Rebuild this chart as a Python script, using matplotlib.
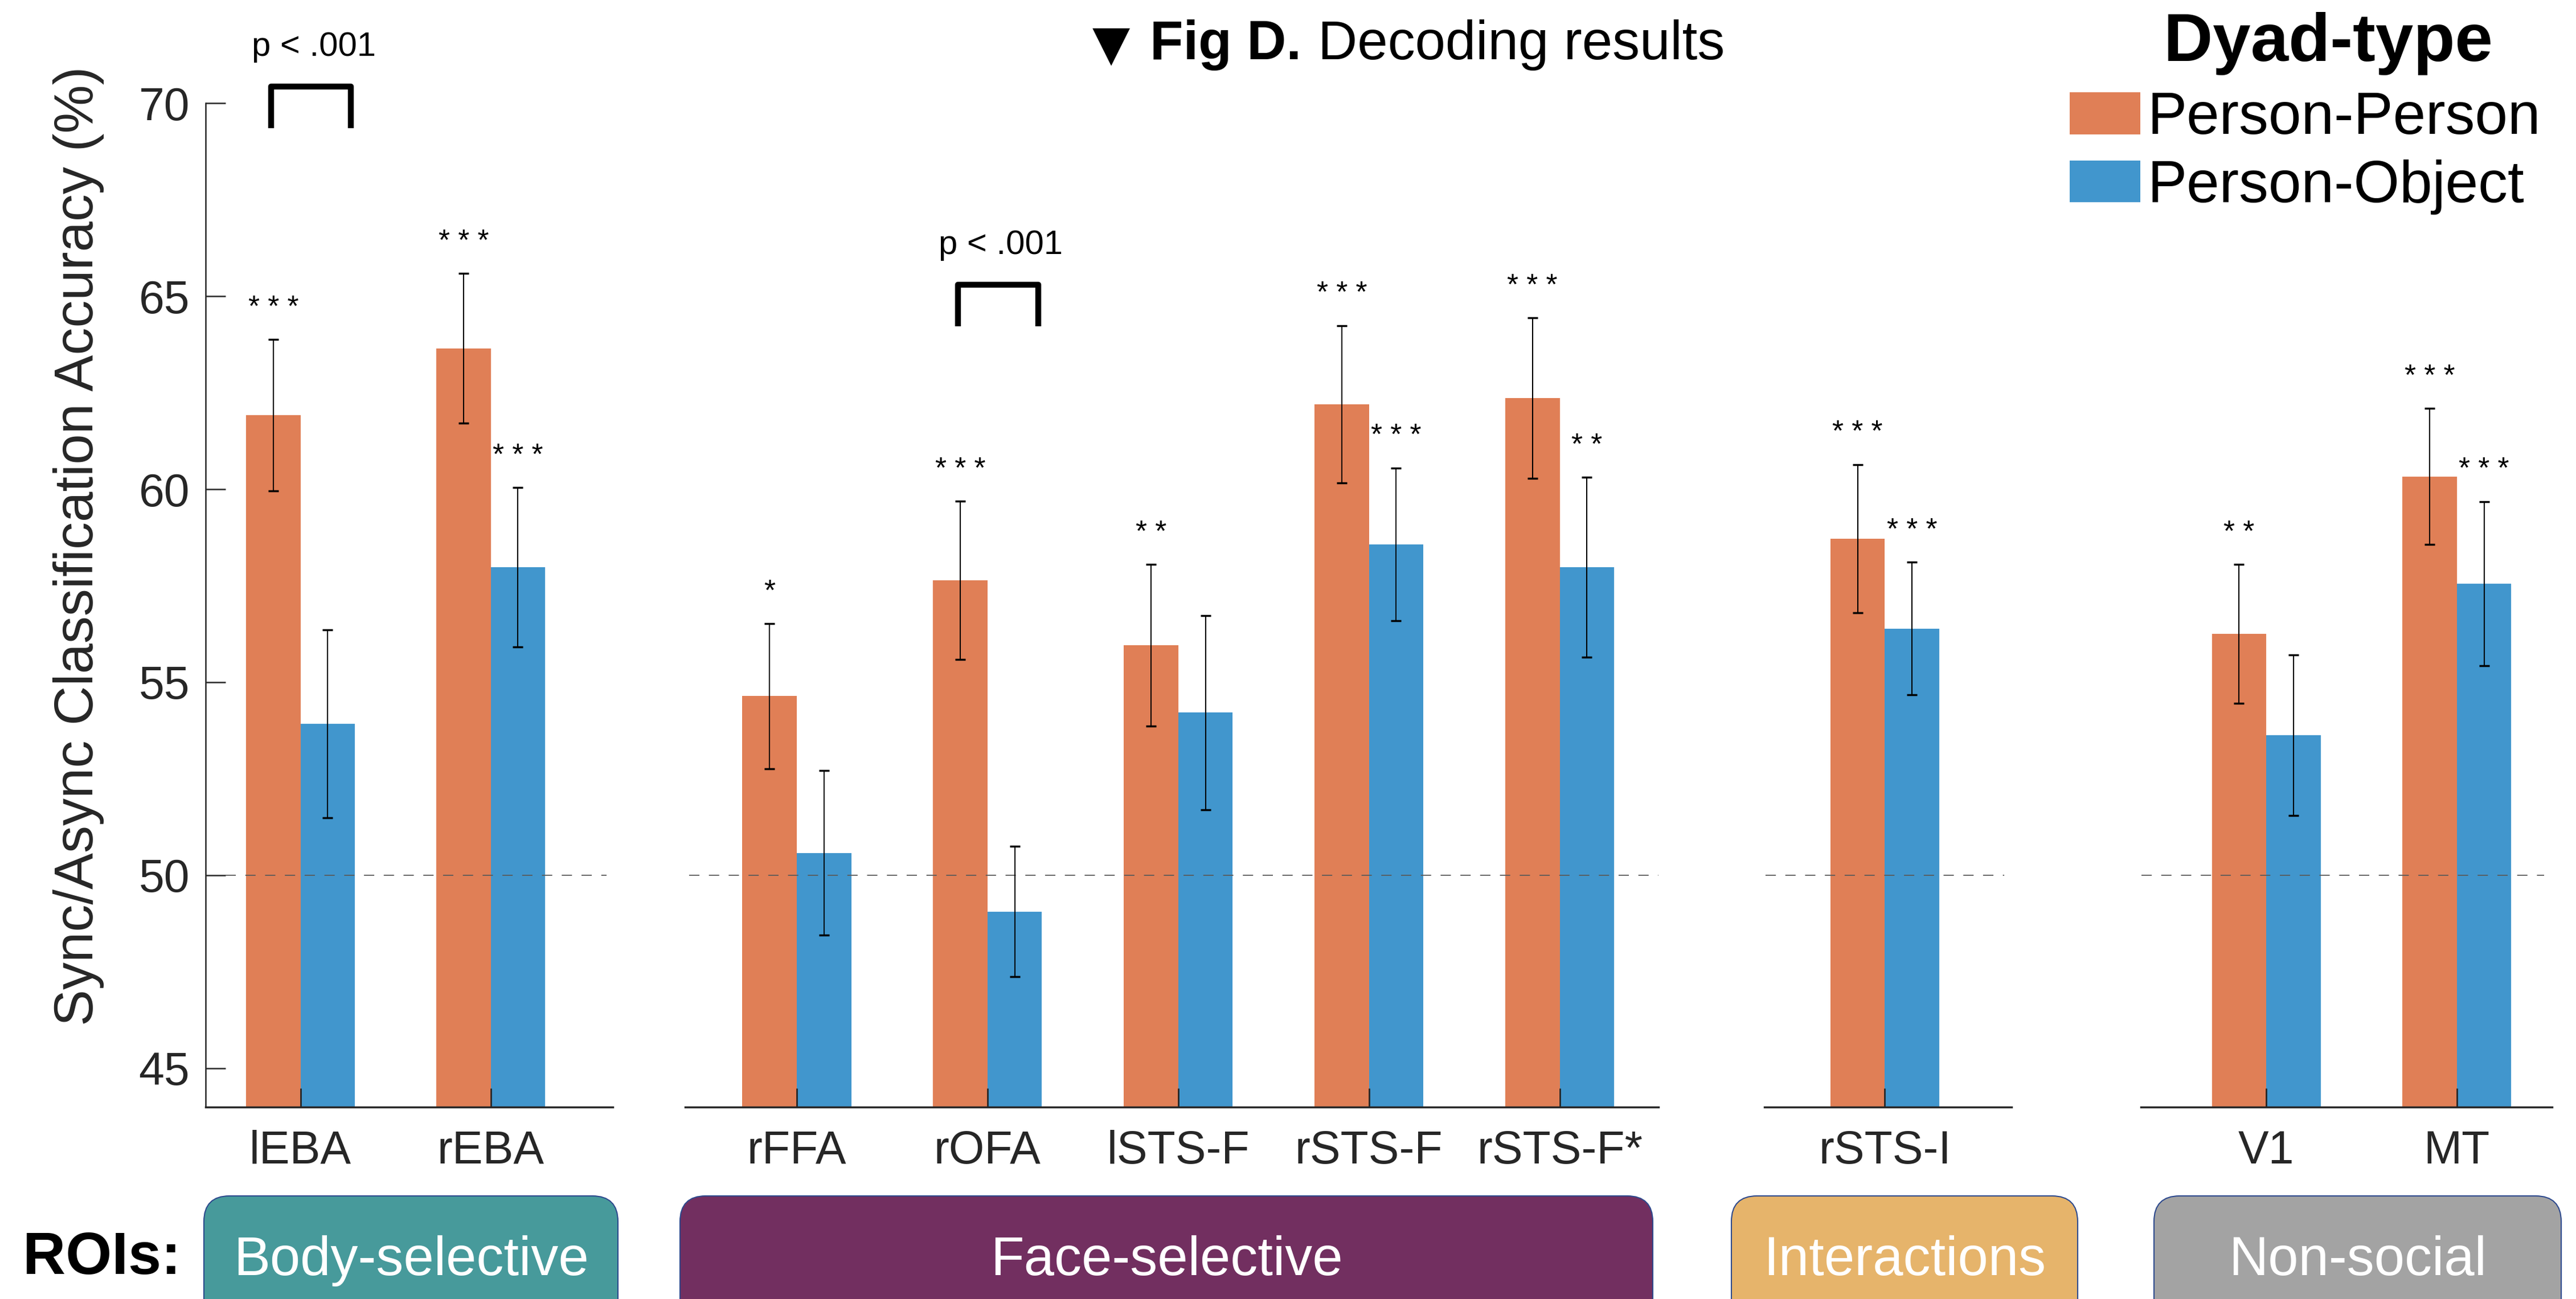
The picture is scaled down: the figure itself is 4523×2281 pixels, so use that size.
import matplotlib
matplotlib.use('Agg')
import matplotlib.pyplot as plt
from matplotlib.patches import FancyBboxPatch
from matplotlib import transforms
import numpy as np

plt.rcParams['font.family'] = ['Liberation Sans', 'DejaVu Sans']
plt.rcParams['lines.scale_dashes'] = False

# ---------------- data ----------------
groups = ['Body-selective', 'Face-selective', 'Interactions', 'Non-social']
group_rois = [['lEBA', 'rEBA'],
              ['rFFA', 'rOFA', 'lSTS-F', 'rSTS-F', 'rSTS-F*'],
              ['rSTS-I'],
              ['V1', 'MT']]
series = ['Person-Person', 'Person-Object']
pp_mean = [61.92, 63.65, 54.64, 57.64, 55.96, 62.20, 62.36, 58.72, 56.25, 60.33]
pp_err = [1.96, 1.94, 1.88, 2.05, 2.09, 2.04, 2.08, 1.92, 1.80, 1.76]
po_mean = [53.92, 57.98, 50.58, 49.06, 54.21, 58.57, 57.98, 56.39, 53.62, 57.55]
po_err = [2.43, 2.06, 2.13, 1.69, 2.52, 1.98, 2.33, 1.72, 2.08, 2.13]
pp_sig = ['***', '***', '*', '***', '**', '***', '***', '***', '**', '***']
po_sig = ['', '***', '', '', '', '***', '**', '***', '', '***']
yticks = [45, 50, 55, 60, 65, 70]
chance = 50
compare_rois = ['lEBA', 'rOFA']
compare_label = 'p < .001'

# ---------------- style / layout ----------------
W, H = 4523, 2281
c_pp = '#E07F56'
c_po = '#4196CD'
box_colors = ['#479A9B', '#722F60', '#E6B46B', '#A3A3A3']
box_px = [(358, 1085), (1194, 2902), (3040, 3648), (3782, 4497)]
panel_px = [(360.7, 1076), (1203, 2912), (3098, 3532), (3759, 4481)]
panel_xlim = [(-0.5, 1.642), (-0.585, 4.518), (-0.633, 0.667), (-0.658, 1.5)]
dash_span = [(0.05, 0.985), (0.004, 1.0), (0.005, 0.97), (0.002, 0.98)]
ytop_px, ybot_px = 181.2, 1943.5
bw = 0.2857
axc = '#262626'
bracket_bottom = {'lEBA': 69.36, 'rOFA': 64.22}

fig = plt.figure(figsize=(W / 100, H / 100), dpi=100)

ov = fig.add_axes([0, 0, 1, 1])
ov.set_xlim(0, W)
ov.set_ylim(H, 0)
ov.axis('off')

flat_idx = 0
legend_handles = None
for gi, rois in enumerate(group_rois):
    x0, x1 = panel_px[gi]
    ax = fig.add_axes([x0 / W, 1 - ybot_px / H, (x1 - x0) / W, (ybot_px - ytop_px) / H])
    ax.set_facecolor('none')
    n = len(rois)
    idx = list(range(flat_idx, flat_idx + n))
    flat_idx += n
    x = np.arange(n)
    pm = [pp_mean[i] for i in idx]
    pe = [pp_err[i] for i in idx]
    om = [po_mean[i] for i in idx]
    oe = [po_err[i] for i in idx]
    b1 = ax.bar(x - bw / 2, pm, width=bw, color=c_pp, label=series[0], zorder=1)
    b2 = ax.bar(x + bw / 2, om, width=bw, color=c_po, label=series[1], zorder=1)
    if legend_handles is None:
        legend_handles = [b1, b2]
    ax.errorbar(x - bw / 2, pm, yerr=pe, fmt='none', ecolor='black',
                elinewidth=1.5, capsize=6.5, capthick=2.5, zorder=3)
    ax.errorbar(x + bw / 2, om, yerr=oe, fmt='none', ecolor='black',
                elinewidth=1.5, capsize=6.5, capthick=2.5, zorder=3)
    ax.axhline(chance, xmin=dash_span[gi][0], xmax=dash_span[gi][1],
               color='#5a5a5a', lw=1.3, dashes=(13, 12), zorder=2)
    star_tr = transforms.offset_copy(ax.transData, fig=fig, y=-0.58 * 37, units='points')
    for k, i in enumerate(idx):
        for xs, m, e, s in [(x[k] - bw / 2, pp_mean[i], pp_err[i], pp_sig[i]),
                            (x[k] + bw / 2, po_mean[i], po_err[i], po_sig[i])]:
            if s:
                ax.text(xs, m + e + 1.05, ' '.join(s), ha='center', va='baseline',
                        fontsize=37, color='black', transform=star_tr, clip_on=False)
        if rois[k] in compare_rois:
            yb = bracket_bottom[rois[k]]
            yt = yb + 1.07
            xl, xr = x[k] - 0.155, x[k] + 0.265
            ax.plot([xl, xl, xr, xr], [yb, yt, yt, yb], color='black', lw=7.5,
                    solid_joinstyle='round', solid_capstyle='butt', clip_on=False, zorder=4)
            ax.text(x[k] + 0.07, yt + 0.8, compare_label, ha='center', va='baseline',
                    fontsize=43, color='black', clip_on=False)

    ax.set_xlim(*panel_xlim[gi])
    ax.set_ylim(44, 70)
    ax.set_xticks(x)
    ax.set_xticklabels(rois)
    ax.tick_params(axis='x', direction='in', length=24, width=2, pad=29,
                   labelsize=58, colors=axc)
    for sp in ['top', 'right']:
        ax.spines[sp].set_visible(False)
    ax.spines['bottom'].set_linewidth(2.5)
    ax.spines['bottom'].set_color(axc)
    if gi == 0:
        ax.set_yticks(yticks)
        ax.tick_params(axis='y', direction='in', length=25, width=1.8, pad=20,
                       labelsize=58, colors=axc)
        ax.spines['left'].set_linewidth(1.8)
        ax.spines['left'].set_color(axc)
    else:
        ax.set_yticks([])
        ax.spines['left'].set_visible(False)

    # ROI group box
    bx0, bx1 = box_px[gi]
    ov.add_patch(FancyBboxPatch((bx0, 2100), bx1 - bx0, 300,
                                boxstyle='round,pad=0,rounding_size=45',
                                fc=box_colors[gi], ec='#2E4A8E', lw=1.5))
    ov.text((bx0 + bx1) / 2, 2239, groups[gi], ha='center', va='baseline',
            color='white', fontsize=69)

ov.text(40, 2237, 'ROIs:', ha='left', va='baseline', fontsize=75,
        fontweight='bold', color='black')

# y label
fig.text(138 / W, 1 - 959 / H, 'Sync/Async Classification Accuracy (%)', rotation=90,
         ha='center', va='center', fontsize=69, color=axc)

# title
ov.text(1918, 104, '\u25BC', ha='left', va='baseline', fontsize=62,
        family='DejaVu Sans', color='black')
ov.text(2019, 104, 'Fig D.', ha='left', va='baseline', fontsize=69,
        fontweight='bold', color='black')
ov.text(2314, 104, 'Decoding results', ha='left', va='baseline', fontsize=69,
        color='black')

# legend
ov.text(4088, 107, 'Dyad-type', ha='center', va='baseline', fontsize=86,
        fontweight='bold', color='black')
fig.legend(handles=legend_handles, labels=series, loc='upper left',
           bbox_to_anchor=(3634 / W, 1 - 160 / H), bbox_transform=fig.transFigure,
           frameon=False, fontsize=74.5, handlelength=1.2, handleheight=0.72,
           handletextpad=0.12, borderpad=0, borderaxespad=0, labelspacing=0.22)

fig.savefig('out.png', dpi=100)
